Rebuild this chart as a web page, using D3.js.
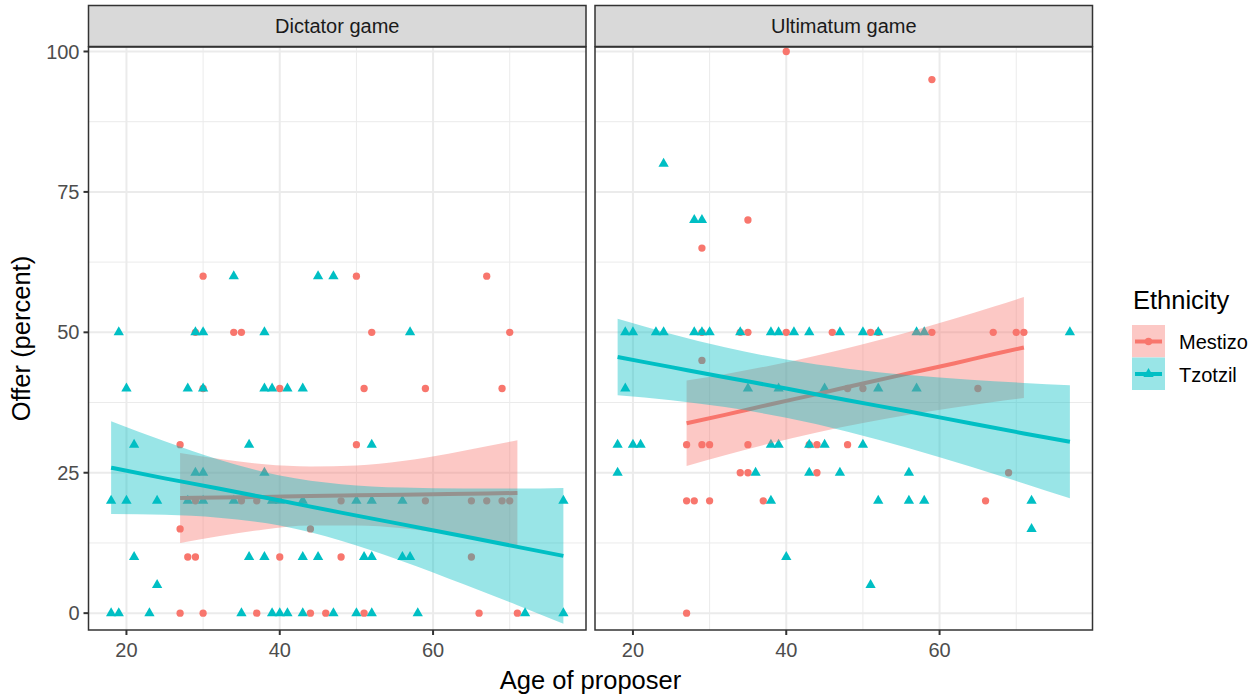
<!DOCTYPE html>
<html>
<head>
<meta charset="utf-8">
<script src="https://cdn.jsdelivr.net/npm/d3@7"></script>
<style>
  body { margin: 0; background: #fff; }
  text { font-family: "Liberation Sans", Arial, Helvetica, sans-serif; }
</style>
</head>
<body>
<svg id="chart"></svg>
<script>
// ---- data: [age, offer] ----
var dictatorMestizo = [
  [30,60],[50,60],[67,60],
  [29,50],[34,50],[35,50],[52,50],[70,50],
  [30,40],[40,40],[51,40],[59,40],[69,40],
  [27,30],[50,30],
  [29,20],[35,20],[37,20],[48,20],[59,20],[65,20],[67,20],[69,20],[70,20],
  [27,15],[44,15],
  [28,10],[29,10],[40,10],[48,10],[65,10],
  [27,0],[30,0],[37,0],[44,0],[46,0],[51,0],[66,0],[71,0]
];
var dictatorTzotzil = [
  [34,60],[45,60],[47,60],
  [19,50],[29,50],[30,50],[38,50],[57,50],
  [20,40],[28,40],[30,40],[38,40],[39,40],[41,40],[43,40],
  [21,30],[36,30],[52,30],
  [29,25],[30,25],[38,25],
  [18,20],[20,20],[24,20],[28,20],[30,20],[34,20],[39,20],[40,20],[43,20],[50,20],[52,20],[56,20],[77,20],
  [21,10],[36,10],[38,10],[43,10],[45,10],[51,10],[52,10],[56,10],[57,10],
  [24,5],
  [18,0],[19,0],[23,0],[35,0],[39,0],[40,0],[41,0],[43,0],[47,0],[50,0],[52,0],[58,0],[72,0],[77,0]
];
var ultimatumMestizo = [
  [40,100],[59,95],[35,70],[29,65],
  [29,50],[34,50],[35,50],[40,50],[46,50],[51,50],[52,50],[59,50],[67,50],[70,50],[71,50],
  [29,45],
  [48,40],[50,40],[65,40],
  [27,30],[29,30],[30,30],[35,30],[43,30],[44,30],[48,30],
  [34,25],[35,25],[44,25],[69,25],
  [27,20],[28,20],[30,20],[37,20],[66,20],
  [27,0]
];
var ultimatumTzotzil = [
  [24,80],[28,70],[29,70],
  [19,50],[20,50],[23,50],[24,50],[28,50],[29,50],[30,50],[34,50],[38,50],[39,50],[41,50],[43,50],[47,50],[50,50],[52,50],[57,50],[58,50],[77,50],
  [19,40],[35,40],[39,40],[45,40],[52,40],[57,40],
  [18,30],[20,30],[21,30],[38,30],[39,30],[43,30],[45,30],[50,30],
  [18,25],[36,25],[43,25],[47,25],[56,25],
  [38,20],[52,20],[56,20],[58,20],[72,20],
  [72,15],[40,10],[51,5]
];

// linear fit with confidence band: [age, fit, lower, upper]
var dictatorMestizoFit = [
  [27,20.5,12.5,28.5],[32,20.6,13.7,27.5],[38,20.7,14.9,26.5],[44,20.85,15.6,26.1],[50,20.97,15.6,26.3],
  [56,21.1,15.1,27.1],[62,21.2,14.05,28.4],[67,21.3,13.0,29.7],[71,21.4,12.0,30.8]
];
var dictatorTzotzilFit = [
  [18,25.9,17.65,34.15],[25,24.0,17.5,30.6],[32,22.2,17.0,27.35],[40,20.05,15.6,24.5],[48,17.9,12.9,22.95],
  [56,15.8,9.25,22.35],[64,13.7,5.15,22.2],[71,11.8,1.4,22.2],[77,10.2,-1.9,22.3]
];
var ultimatumMestizoFit = [
  [27,33.8,26.2,41.4],[32,35.3,28.1,42.55],[38,37.2,30.24,44.1],[44,39.0,32.16,45.88],[50,40.9,33.85,47.87],
  [56,42.7,35.33,50.07],[62,44.5,36.63,52.45],[67,46.1,37.6,54.54],[71,47.3,38.32,56.28]
];
var ultimatumTzotzilFit = [
  [18,45.6,38.8,52.4],[25,43.8,37.9,49.72],[32,42.0,36.69,47.35],[40,40.0,34.79,45.15],[48,37.9,32.31,43.53],
  [56,35.9,29.36,42.4],[64,33.8,26.1,41.56],[71,32.0,23.09,40.99],[77,30.5,20.44,40.56]
];

var games = ["Dictator game", "Ultimatum game"];
var ethnicities = ["Mestizo", "Tzotzil"];
var xTicks = [20, 40, 60];
var xMinor = [30, 50, 70];
var yTicks = [0, 25, 50, 75, 100];
var yMinor = [12.5, 37.5, 62.5, 87.5];

// ---- layout ----
var width = 1260;
var height = 698;
var panelTop = 47;
var panelH = 583;
var panelW = 497.5;
var panelLeft = [88.5, 595];
var colors = { Mestizo: "#F8766D", Tzotzil: "#00BFC4" };
var smallFont = 20;
var bigFont = 25.5;

var panelData = [
  { points: { Mestizo: dictatorMestizo, Tzotzil: dictatorTzotzil },
    fits: { Mestizo: dictatorMestizoFit, Tzotzil: dictatorTzotzilFit } },
  { points: { Mestizo: ultimatumMestizo, Tzotzil: ultimatumTzotzil },
    fits: { Mestizo: ultimatumMestizoFit, Tzotzil: ultimatumTzotzilFit } }
];

var xScale = d3.scaleLinear().domain([15.05, 79.95]).range([0, panelW]);
var yScale = d3.scaleLinear().domain([-3.0, 100.8]).range([panelH, 0]);

var svg = d3.select("#chart")
    .attr("width", width)
    .attr("height", height);

svg.append("rect").attr("width", width).attr("height", height).attr("fill", "#fff");

var circleSym = d3.symbol().type(d3.symbolCircle).size(42);
var triSym = d3.symbol().type(d3.symbolTriangle).size(46);
var shapes = { Mestizo: circleSym, Tzotzil: triSym };

var area = d3.area()
    .x(d => xScale(d[0]))
    .y0(d => yScale(d[2]))
    .y1(d => yScale(d[3]))
    .curve(d3.curveMonotoneX);
var line = d3.line()
    .x(d => xScale(d[0]))
    .y(d => yScale(d[1]))
    .curve(d3.curveMonotoneX);

games.forEach(function(game, i) {
  var g = svg.append("g")
      .attr("transform", "translate(" + panelLeft[i] + "," + panelTop + ")");

  g.append("clipPath").attr("id", "clip" + i)
    .append("rect").attr("width", panelW).attr("height", panelH);

  // grid
  g.selectAll(".ymin").data(yMinor).enter().append("line")
      .attr("x1", 0).attr("x2", panelW)
      .attr("y1", d => yScale(d)).attr("y2", d => yScale(d))
      .attr("stroke", "#EBEBEB").attr("stroke-width", 1);
  g.selectAll(".xmin").data(xMinor).enter().append("line")
      .attr("y1", 0).attr("y2", panelH)
      .attr("x1", d => xScale(d)).attr("x2", d => xScale(d))
      .attr("stroke", "#EBEBEB").attr("stroke-width", 1);
  g.selectAll(".ymaj").data(yTicks).enter().append("line")
      .attr("x1", 0).attr("x2", panelW)
      .attr("y1", d => yScale(d)).attr("y2", d => yScale(d))
      .attr("stroke", "#EBEBEB").attr("stroke-width", 2);
  g.selectAll(".xmaj").data(xTicks).enter().append("line")
      .attr("y1", 0).attr("y2", panelH)
      .attr("x1", d => xScale(d)).attr("x2", d => xScale(d))
      .attr("stroke", "#EBEBEB").attr("stroke-width", 2);

  var plot = g.append("g").attr("clip-path", "url(#clip" + i + ")");

  // points
  ethnicities.forEach(function(eth) {
    plot.selectAll(".pt-" + eth)
      .data(panelData[i].points[eth])
      .enter()
      .append("path")
        .attr("d", shapes[eth])
        .attr("transform", d => "translate(" + xScale(d[0]) + "," + yScale(d[1]) + ")")
        .attr("fill", colors[eth]);
  });

  // smooths: ribbon then line, per group
  ethnicities.forEach(function(eth) {
    var fit = panelData[i].fits[eth];
    plot.append("path")
        .datum(fit)
        .attr("d", area)
        .attr("fill", colors[eth])
        .attr("fill-opacity", 0.4);
    plot.append("path")
        .datum(fit)
        .attr("d", line)
        .attr("fill", "none")
        .attr("stroke", colors[eth])
        .attr("stroke-width", 4);
  });

  // panel border
  g.append("rect")
      .attr("width", panelW).attr("height", panelH)
      .attr("fill", "none").attr("stroke", "#333333").attr("stroke-width", 1.5);

  // strip
  g.append("rect")
      .attr("x", 0).attr("y", -41.5)
      .attr("width", panelW).attr("height", 41)
      .attr("fill", "#D9D9D9").attr("stroke", "#333333").attr("stroke-width", 1.5);
  g.append("text")
      .attr("x", panelW / 2).attr("y", -21)
      .attr("text-anchor", "middle").attr("dominant-baseline", "central")
      .attr("font-size", smallFont).attr("fill", "#1A1A1A")
      .text(game);

  // x axis
  var xAxis = g.append("g").attr("transform", "translate(0," + panelH + ")");
  xAxis.selectAll("line").data(xTicks).enter().append("line")
      .attr("x1", d => xScale(d)).attr("x2", d => xScale(d))
      .attr("y1", 0).attr("y2", 5)
      .attr("stroke", "#333333").attr("stroke-width", 2);
  xAxis.selectAll("text").data(xTicks).enter().append("text")
      .attr("x", d => xScale(d)).attr("y", 27)
      .attr("text-anchor", "middle")
      .attr("font-size", smallFont).attr("fill", "#4D4D4D")
      .text(d => d);

  // y axis only on first panel
  if (i === 0) {
    var yAxis = g.append("g");
    yAxis.selectAll("line").data(yTicks).enter().append("line")
        .attr("x1", -5).attr("x2", 0)
        .attr("y1", d => yScale(d)).attr("y2", d => yScale(d))
        .attr("stroke", "#333333").attr("stroke-width", 2);
    yAxis.selectAll("text").data(yTicks).enter().append("text")
        .attr("x", -9).attr("y", d => yScale(d))
        .attr("text-anchor", "end").attr("dominant-baseline", "central")
        .attr("font-size", smallFont).attr("fill", "#4D4D4D")
        .text(d => d);
  }
});

// axis titles
svg.append("text")
    .attr("x", (panelLeft[0] + panelLeft[1] + panelW) / 2).attr("y", 689)
    .attr("text-anchor", "middle")
    .attr("font-size", bigFont).attr("fill", "#000")
    .text("Age of proposer");
svg.append("text")
    .attr("transform", "translate(30," + (panelTop + panelH / 2) + ") rotate(-90)")
    .attr("text-anchor", "middle")
    .attr("font-size", bigFont).attr("fill", "#000")
    .text("Offer (percent)");

// legend
var legend = svg.append("g").attr("transform", "translate(1132,0)");
legend.append("text")
    .attr("x", 1).attr("y", 309)
    .attr("font-size", bigFont).attr("fill", "#000")
    .text("Ethnicity");
var keys = legend.selectAll(".key").data(ethnicities).enter().append("g")
    .attr("transform", (d, k) => "translate(0," + (325 + k * 32.5) + ")");
keys.append("rect")
    .attr("width", 33).attr("height", 32.5)
    .attr("fill", "#fff");
keys.append("rect")
    .attr("width", 33).attr("height", 32.5)
    .attr("fill", d => colors[d]).attr("fill-opacity", 0.4);
keys.append("line")
    .attr("x1", 3).attr("x2", 30)
    .attr("y1", 16.5).attr("y2", 16.5)
    .attr("stroke", d => colors[d]).attr("stroke-width", 4);
keys.append("path")
    .attr("d", d => shapes[d]())
    .attr("transform", "translate(16.5,16.5)")
    .attr("fill", d => colors[d]);
keys.append("text")
    .attr("x", 47).attr("y", 17)
    .attr("dominant-baseline", "central")
    .attr("font-size", smallFont).attr("fill", "#000")
    .text(d => d);
</script>
</body>
</html>
